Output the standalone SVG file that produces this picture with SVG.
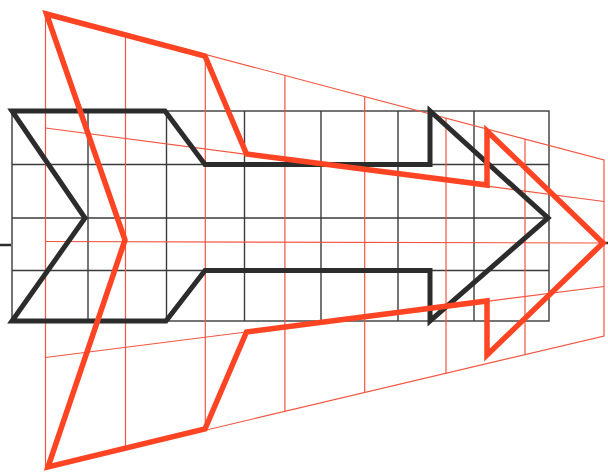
<svg xmlns="http://www.w3.org/2000/svg" width="608" height="473" viewBox="0 0 608 473">
  <style>
    .bg{fill:#ffffff}
    .bgrid{stroke:#3a3a3a;stroke-width:1.4;fill:none}
    .rgrid{stroke:#f2553f;stroke-width:1.2;fill:none}
    .barrow{stroke:#2c2c2c;stroke-width:5;fill:none;stroke-linejoin:miter;stroke-miterlimit:3}
    .rarrow{stroke:#ff4424;stroke-width:5.5;fill:none;stroke-linejoin:miter;stroke-miterlimit:3}
    .axis{stroke:#2c2c2c;stroke-width:2.5}
  </style>
  <rect class="bg" x="0" y="0" width="608" height="473"/>
  <g id="axis">
    <line class="axis" x1="0" y1="245" x2="11" y2="245"/>
    <line class="axis" x1="603" y1="243" x2="608" y2="243"/>
  </g>
  <g id="black-grid">
    <rect class="bgrid" x="12" y="111" width="537" height="210"/>
    <line class="bgrid" x1="12" y1="164.5" x2="549" y2="164.5"/>
    <line class="bgrid" x1="12" y1="218" x2="549" y2="218"/>
    <line class="bgrid" x1="12" y1="270.5" x2="549" y2="270.5"/>
    <line class="bgrid" x1="88" y1="111" x2="88" y2="321"/>
    <line class="bgrid" x1="166.5" y1="111" x2="166.5" y2="321"/>
    <line class="bgrid" x1="244.5" y1="111" x2="244.5" y2="321"/>
    <line class="bgrid" x1="321" y1="111" x2="321" y2="321"/>
    <line class="bgrid" x1="398" y1="111" x2="398" y2="321"/>
    <line class="bgrid" x1="474" y1="111" x2="474" y2="321"/>
  </g>
  <g id="red-grid">
    <polygon class="rgrid" points="45.5,12 604,160 604,336 45.5,468"/>
    <line class="rgrid" x1="45.5" y1="128" x2="604" y2="201.5"/>
    <line class="rgrid" x1="45.5" y1="241.5" x2="604" y2="243"/>
    <line class="rgrid" x1="45.5" y1="357.5" x2="604" y2="286.5"/>
    <line class="rgrid" x1="125.5" y1="33.2" x2="125.5" y2="449.1"/>
    <line class="rgrid" x1="205.3" y1="54.3" x2="205.3" y2="430.2"/>
    <line class="rgrid" x1="284.9" y1="75.4" x2="284.9" y2="411.4"/>
    <line class="rgrid" x1="364.7" y1="96.6" x2="364.7" y2="392.6"/>
    <line class="rgrid" x1="446" y1="118.1" x2="446" y2="373.3"/>
    <line class="rgrid" x1="525" y1="139" x2="525" y2="354.6"/>
  </g>
  <g id="black-arrow">
    <polygon class="barrow" points="12,111 165,111 205,164.5 430,164.5 430,111 548,218 430,321 430,270.5 205,270.5 166,321 12,321 85,218"/>
  </g>
  <g id="red-arrow">
    <polygon class="rarrow" points="46.5,14 205,56 246.5,154 487,185 487,131 603,243 487,355 487,301 246.5,332 205,429 48,467 125,240"/>
  </g>
</svg>
